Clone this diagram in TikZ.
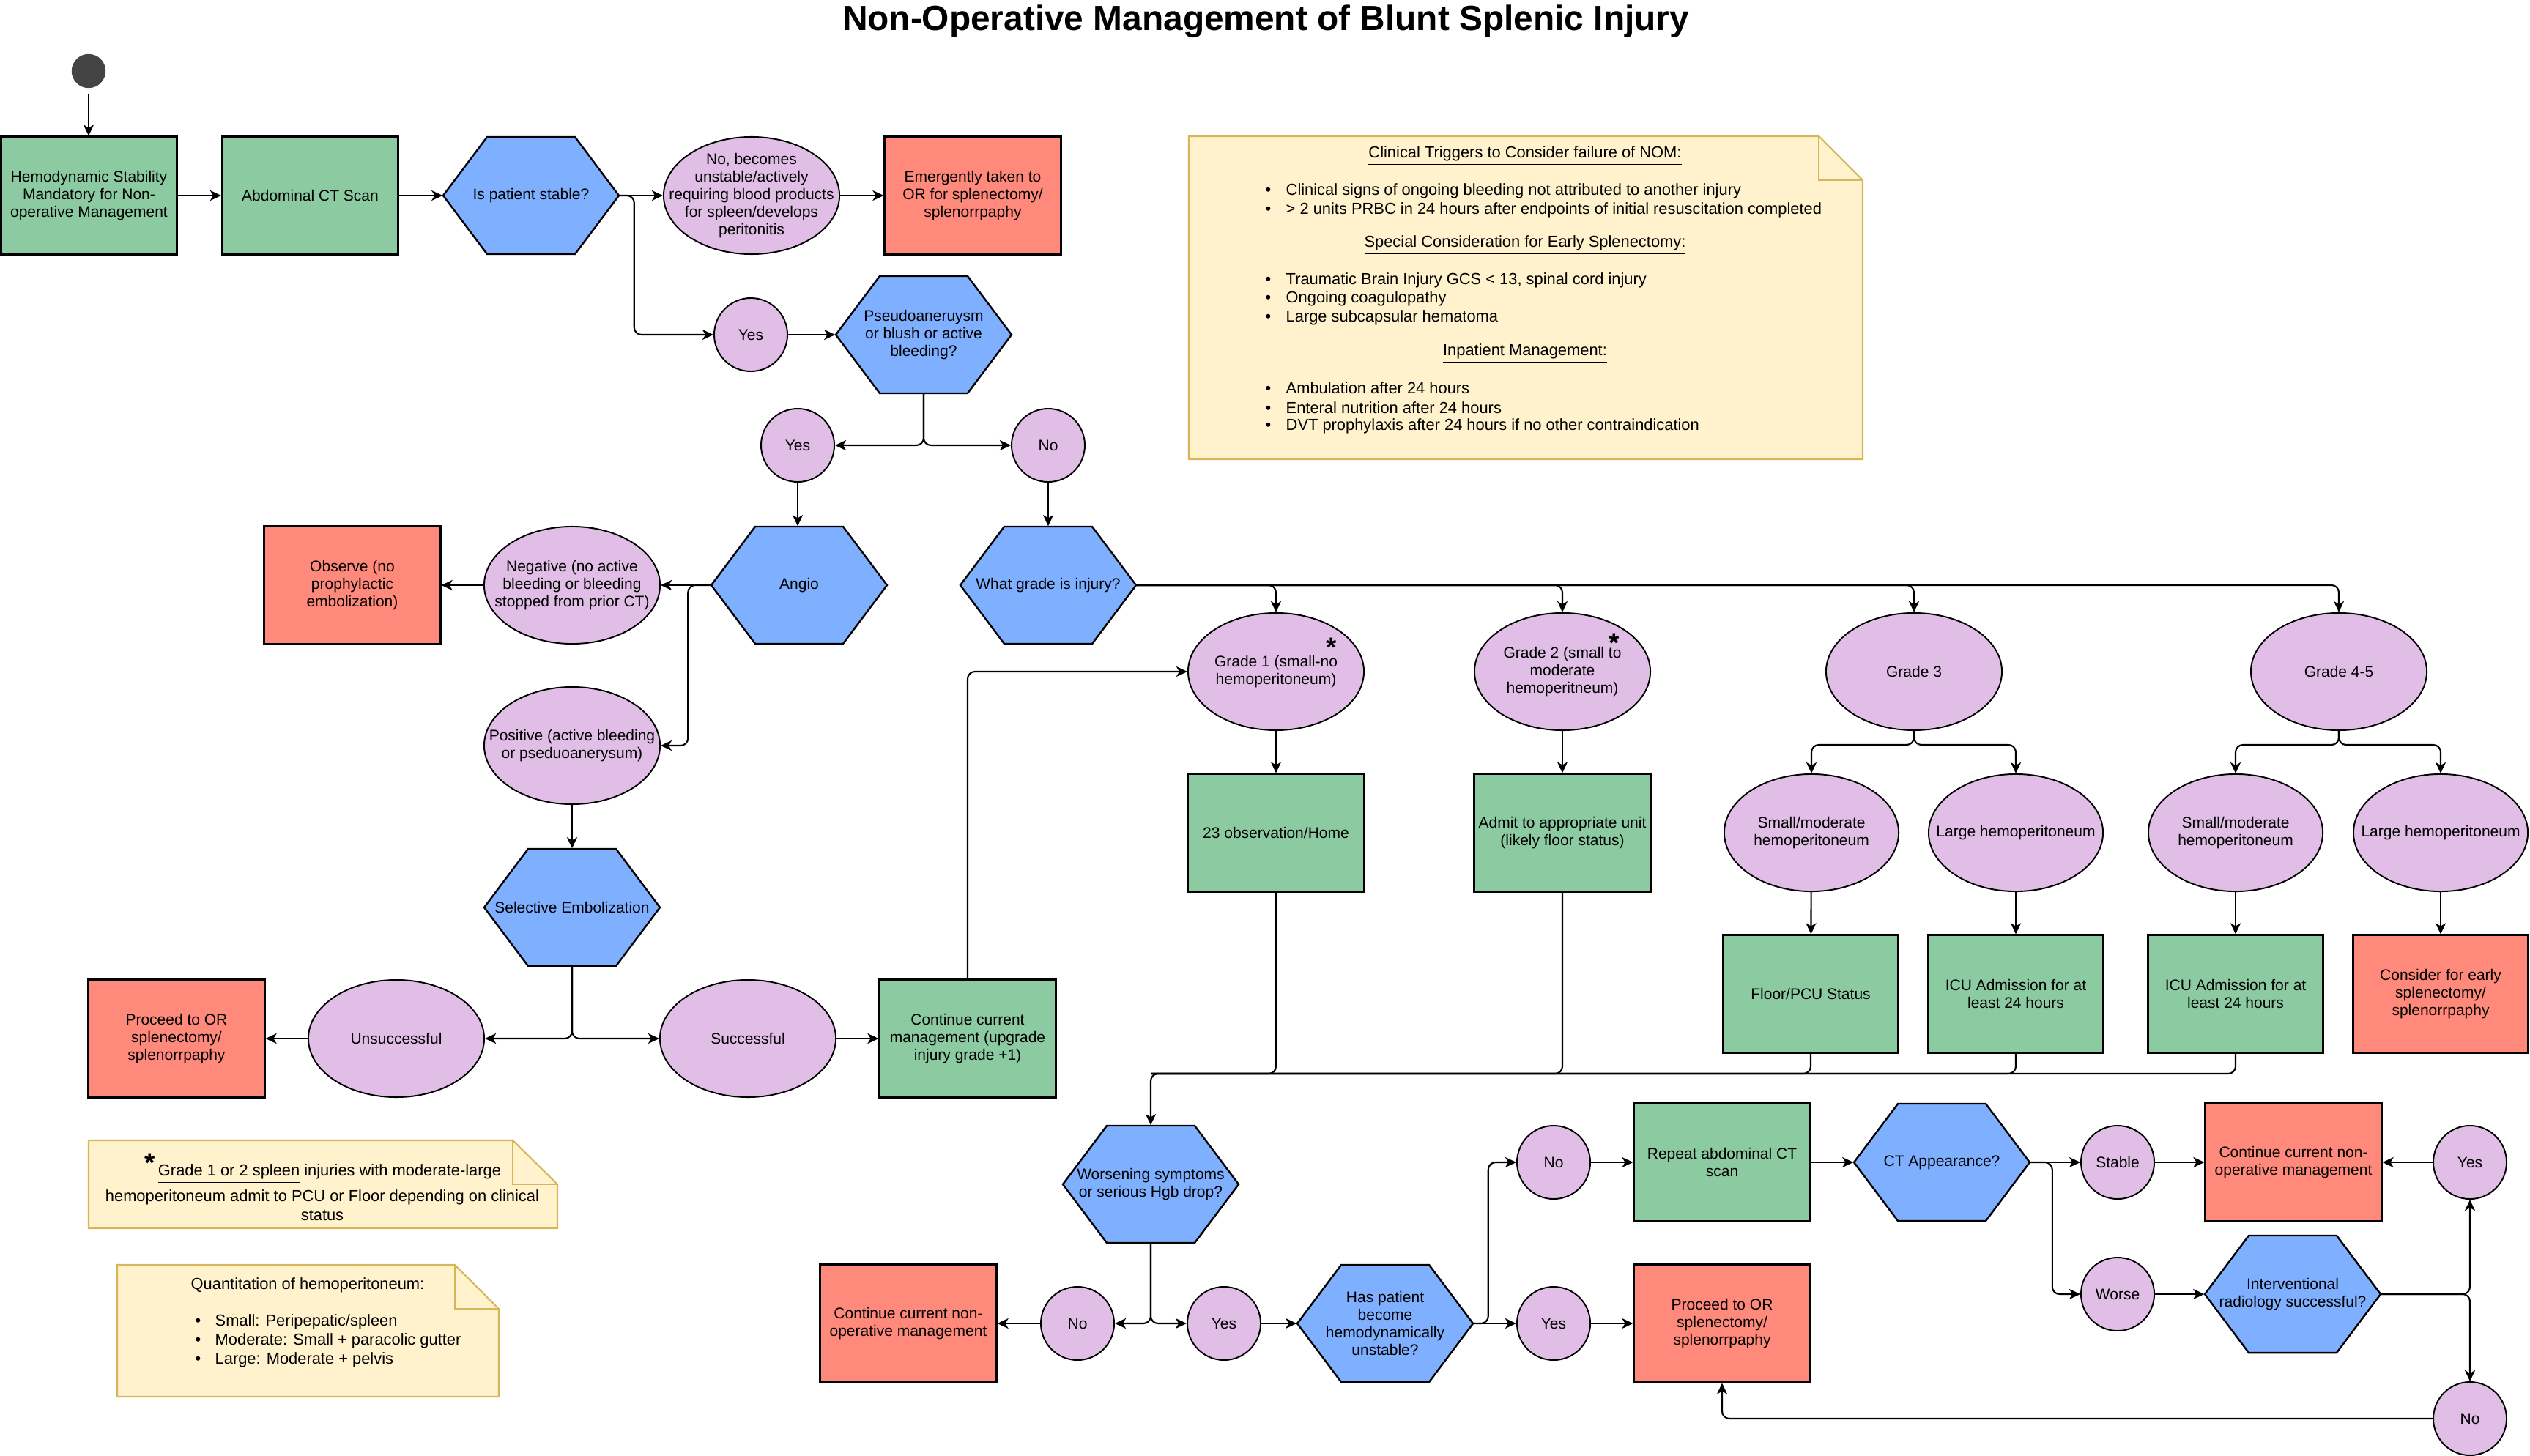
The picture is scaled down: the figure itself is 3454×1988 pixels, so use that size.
\documentclass[tikz,border=0pt]{standalone}
\usepackage{fontspec}
\setmainfont{Liberation Sans}
\usetikzlibrary{shapes.geometric,arrows.meta,calc}
\definecolor{cgreen}{RGB}{140,203,161}
\definecolor{cblue}{RGB}{127,175,255}
\definecolor{cpurp}{RGB}{224,190,230}
\definecolor{cred}{RGB}{255,137,122}
\definecolor{cnote}{RGB}{255,242,204}
\definecolor{cnotes}{RGB}{214,182,86}
\definecolor{cdark}{RGB}{68,68,68}
\newcommand\diagfs{\fontsize{5.97}{6.85}\selectfont}
\newcommand\notefs{\fontsize{6.22}{7.1}\selectfont}
\newcommand\bullitem[1][0.28cm]{\makebox[#1][l]{•}}
\newcommand\astglyph{\raisebox{-0.43em}[0.3em][0pt]{*}}
\tikzset{
  lbl/.style={font=\diagfs, align=center, inner sep=0pt},
  nlbl/.style={lbl, font=\notefs},
  bul/.style={nlbl, anchor=west, align=left},
  ttl/.style={font=\fontsize{13.6}{16}\selectfont\bfseries, inner sep=0pt},
  astk/.style={font=\fontsize{10.5}{11}\selectfont\bfseries, inner sep=0pt},
  box/.style={draw, line width=0.85pt, minimum width=2.4cm, minimum height=1.6cm, inner sep=0pt, font=\diagfs, align=center},
  gbox/.style={box, fill=cgreen},
  rbox/.style={box, fill=cred},
  ell/.style={ellipse, draw, line width=0.55pt, fill=cpurp, minimum width=2.4cm, minimum height=1.6cm, inner sep=0pt},
  ells/.style={ell, minimum width=2.38cm},
  circ/.style={ell, minimum width=1cm, minimum height=1cm},
  hexn/.style={rectangle, minimum width=2.4cm, minimum height=1.6cm, inner sep=0pt},
  hexfill/.style={draw, fill=cblue, line width=0.7pt, line join=miter},
  startc/.style={circle, fill=cdark, draw=cdark, minimum size=0.45cm, inner sep=0pt},
  note/.style={draw=cnotes, fill=cnote, line width=0.6pt, line join=miter},
  notefold/.style={draw=cnotes, line width=0.6pt},
  conn/.style={draw, line width=0.6pt, rounded corners=0.1cm},
  arr/.style={conn, -{Stealth[length=4.3pt,width=4pt,inset=1.2pt]}}
}
\newcommand\ellat[4][ell]{\node[#1] (#2) at (#3) {}; \node[lbl] (#2-t) at (#2.center) {#4};}
\newcommand\hexat[3]{\path[hexfill, shift={(#2)}] (-120,0) -- (-60,-80) -- (60,-80) -- (120,0) -- (60,80) -- (-60,80) -- cycle; \node[hexn] (#1) at (#2) {}; \node[lbl] (#1-t) at (#1.center) {#3};}
\begin{document}
\begin{tikzpicture}[x=0.01cm,y=-0.01cm]
\useasboundingbox (0,0) rectangle (3454,1988);
\node[ttl] (title) at (1728,29) {Non-Operative Management of Blunt Splenic Injury};

% ---------- notes ----------
\path[note] (1623,186) -- (2483,186) -- (2543,246) -- (2543,627) -- (1623,627) -- cycle;
\path[notefold] (2483,186) -- (2483,246) -- (2543,246);
\node[nlbl] (n1h1) at (2082,213) {\underline{Clinical Triggers to Consider failure of NOM:}};
\node[bul] (n1a) at (1727,261) {\bullitem Clinical signs of ongoing bleeding not attributed to another injury};
\node[bul] (n1b) at (1727,287) {\bullitem > 2 units PRBC in 24 hours after endpoints of initial resuscitation completed};
\node[nlbl] (n1h2) at (2082,335) {\underline{Special Consideration for Early Splenectomy:}};
\node[bul] (n1c) at (1727,383) {\bullitem Traumatic Brain Injury GCS < 13, spinal cord injury};
\node[bul] (n1d) at (1727,408) {\bullitem Ongoing coagulopathy};
\node[bul] (n1e) at (1727,434) {\bullitem Large subcapsular hematoma};
\node[nlbl] (n1h3) at (2082,483) {\underline{Inpatient Management:}};
\node[bul] (n1f) at (1727,530) {\bullitem Ambulation after 24 hours};
\node[bul] (n1g) at (1727,557) {\bullitem Enteral nutrition after 24 hours};
\node[bul] (n1h) at (1727,582) {\bullitem DVT prophylaxis after 24 hours if no other contraindication};

\path[note] (121,1557) -- (700,1557) -- (761,1617) -- (761,1677) -- (121,1677) -- cycle;
\path[notefold] (700,1557) -- (700,1617) -- (761,1617);
\node[astk] (ast3) at (205,1579) {\astglyph};
\node[nlbl] (n2a) at (450,1603) {\underline{Grade 1 or 2 spleen} injuries with moderate-large};
\node[nlbl] (n2b) at (440,1635) {hemoperitoneum admit to PCU or Floor depending on clinical};
\node[nlbl] (n2c) at (440,1660) {status};

\path[note] (160,1727) -- (621,1727) -- (681,1787) -- (681,1907) -- (160,1907) -- cycle;
\path[notefold] (621,1727) -- (621,1787) -- (681,1787);
\node[nlbl] (n3h) at (420,1758) {\underline{Quantitation of hemoperitoneum:}};
\node[bul] (n3a) at (266,1805) {\bullitem[0.27cm]Small: Peripepatic/spleen};
\node[bul] (n3b) at (266,1831) {\bullitem[0.27cm]Moderate: Small + paracolic gutter};
\node[bul] (n3c) at (266,1857) {\bullitem[0.27cm]Large: Moderate + pelvis};

% ---------- top row ----------
\node[startc] (start) at (121,97) {};
\node[gbox] (b1) at (121.5,267) {Hemodynamic Stability\\Mandatory for Non-\\operative Management};
\node[gbox] (b2) at (423.5,267) {Abdominal CT Scan};
\hexat{h1}{725,267}{Is patient stable?}
\ellat{e1}{1026,267}{No, becomes\\unstable/actively\\requiring blood products\\for spleen/develops\\peritonitis}
\node[rbox] (r1) at (1328,267) {Emergently taken to\\OR for splenectomy/\\splenorrpaphy};
\ellat[circ]{yes1}{1025,457}{Yes}
\hexat{h2}{1261,457}{Pseudoaneruysm\\or blush or active\\bleeding?}
\ellat[circ]{yes2}{1089,608}{Yes}
\ellat[circ]{no1}{1431,608}{No}

% ---------- angio branch ----------
\hexat{angio}{1091,799}{Angio}
\hexat{grade}{1431,799}{What grade is injury?}
\ellat{neg}{781,799}{Negative (no active\\bleeding or bleeding\\stopped from prior CT)}
\node[rbox] (obs) at (481,799) {Observe (no\\prophylactic\\embolization)};
\ellat{pos}{781,1018}{Positive (active bleeding\\or pseduoanerysum)}
\hexat{sel}{781,1239}{Selective Embolization}
\ellat{uns}{541,1418}{Unsuccessful}
\ellat{suc}{1021,1418}{Successful}
\node[gbox] (ccm) at (1321,1418) {Continue current\\management (upgrade\\injury grade +1)};
\node[rbox] (or1) at (241,1418) {Proceed to OR\\splenectomy/\\splenorrpaphy};

% ---------- grades ----------
\ellat{g1}{1742,917}{Grade 1 (small-no\\hemoperitoneum)}
\ellat{g2}{2133,917}{Grade 2 (small to\\moderate\\hemoperitneum)}
\node[astk] (ast1) at (1818,875) {\astglyph};
\node[astk] (ast2) at (2204,869) {\astglyph};
\ellat{g3}{2613,917}{Grade 3}
\ellat{g45}{3193,917}{Grade 4-5}
\node[gbox] (obsh) at (1742,1137) {23 observation/Home};
\node[gbox] (adm) at (2133,1137) {Admit to appropriate unit\\(likely floor status)};
\ellat[ells]{sm3}{2473,1137}{Small/moderate\\hemoperitoneum}
\ellat[ells]{lg3}{2752,1137}{Large hemoperitoneum}
\ellat[ells]{sm45}{3052,1137}{Small/moderate\\hemoperitoneum}
\ellat[ells]{lg45}{3332,1137}{Large hemoperitoneum}
\node[gbox, minimum width=2.38cm] (floor) at (2472,1357) {Floor/PCU Status};
\node[gbox, minimum width=2.38cm] (icu3) at (2752,1357) {ICU Admission for at\\least 24 hours};
\node[gbox, minimum width=2.38cm] (icu45) at (3052,1357) {ICU Admission for at\\least 24 hours};
\node[rbox, minimum width=2.38cm] (early) at (3332,1357) {Consider for early\\splenectomy/\\splenorrpaphy};

% ---------- bottom ----------
\hexat{wors}{1571,1617}{Worsening symptoms\\or serious Hgb drop?}
\node[rbox] (cnon) at (1240,1807) {Continue current non-\\operative management};
\ellat[circ]{no2}{1471,1807}{No}
\ellat[circ]{yes3}{1671,1807}{Yes}
\hexat{has}{1891,1807}{Has patient\\become\\hemodynamically\\unstable?}
\ellat[circ]{yes4}{2121,1807}{Yes}
\ellat[circ]{no3}{2121,1587}{No}
\node[rbox] (or2) at (2351,1807) {Proceed to OR\\splenectomy/\\splenorrpaphy};
\node[gbox] (rct) at (2351,1587) {Repeat abdominal CT\\scan};
\hexat{cta}{2651,1587}{CT Appearance?}
\ellat[circ]{stab}{2891,1587}{Stable}
\ellat[circ]{worse}{2891,1767}{Worse}
\node[rbox] (cnon2) at (3131,1587) {Continue current non-\\operative management};
\hexat{ir}{3130,1767}{Interventional\\radiology successful?}
\ellat[circ]{yes5}{3372,1587}{Yes}
\ellat[circ]{no4}{3372,1937}{No}

% ---------- connectors ----------
\draw[arr, shorten <=0.08cm] (start) -- (start |- b1.north);
\draw[arr] (b1) -- (b2);
\draw[arr] (b2) -- (h1);
\draw[arr] (h1.east) -- (e1.west);
\draw[arr] (e1) -- (r1);
\draw[arr] (h1.east) -- ++(20,0) |- (yes1.west);
\draw[arr] (yes1) -- (h2.west);
\draw[arr] (h2.south) |- (yes2.east);
\draw[arr] (h2.south) |- (no1.west);
\draw[arr] (yes2.south) -- (yes2.south |- angio.north);
\draw[arr] (no1) -- (grade);
\draw[arr] (angio.west) -- (neg.east);
\draw[arr] (angio.west) -- ++(-31,0) |- (pos.east);
\draw[arr] (neg) -- (obs);
\draw[arr] (pos) -- (sel);
\draw[arr] (sel.south) |- (uns.east);
\draw[arr] (sel.south) |- (suc.west);
\draw[arr] (uns) -- (or1);
\draw[arr] (suc) -- (ccm);
\draw[arr] (ccm.north) |- (g1.west);
\draw[arr] (grade.east) -| (g1.north);
\draw[arr] (grade.east) -| (g2.north);
\draw[arr] (grade.east) -| (g3.north);
\draw[arr] (grade.east) -| (g45.north);
\draw[arr] (g1) -- (obsh);
\draw[arr] (g2) -- (adm);
\draw[arr] (g3.south) -- ++(0,19) -| (sm3.north);
\draw[arr] (g3.south) -- ++(0,19) -| (lg3.north);
\draw[arr] (g45.south) -- ++(0,19) -| (sm45.north);
\draw[arr] (g45.south) -- ++(0,19) -| (lg45.north);
\draw[arr] (sm3) -- (floor);
\draw[arr] (lg3) -- (icu3);
\draw[arr] (sm45) -- (icu45);
\draw[arr] (lg45) -- (early);
\coordinate (mrg) at (1571,1466);
\draw[arr] (icu45.south) |- (mrg) -- (wors.north);
\draw[conn] (icu3.south) |- (mrg);
\draw[conn] (floor.south) |- (mrg);
\draw[conn] (adm.south) |- (mrg);
\draw[conn] (obsh.south) |- (mrg);
\draw[arr] (wors.south) |- (no2.east);
\draw[arr] (wors.south) |- (yes3.west);
\draw[arr] (no2) -- (cnon);
\draw[arr] (yes3) -- (has.west);
\draw[arr] (has.east) -- (yes4.west);
\draw[arr] (has.east) -- ++(20,0) |- (no3.west);
\draw[arr] (yes4) -- (or2);
\draw[arr] (no3) -- (rct);
\draw[arr] (rct) -- (cta.west);
\draw[arr] (cta.east) -- (stab.west);
\draw[arr] (cta.east) -- ++(30,0) |- (worse.west);
\draw[arr] (stab) -- (cnon2);
\draw[arr] (worse) -- (ir.west);
\draw[arr] (ir.east) -| (yes5.south);
\draw[arr] (ir.east) -| (no4.north);
\draw[arr] (yes5) -- (cnon2);
\draw[arr] (no4.west) -| (or2.south);
\end{tikzpicture}
\end{document}
